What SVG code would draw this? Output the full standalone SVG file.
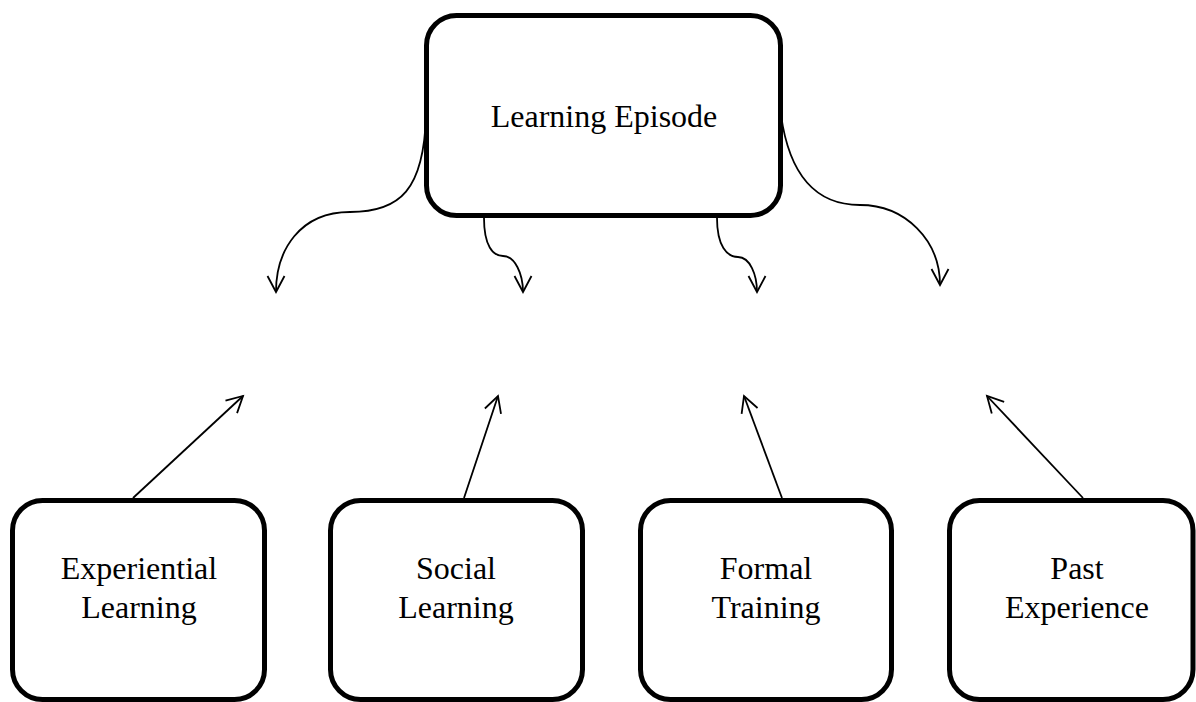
<svg xmlns="http://www.w3.org/2000/svg" width="1196" height="702" viewBox="0 0 1196 702">
  <style>
    .box { fill: #ffffff; stroke: #000000; stroke-width: 5; }
    .lbl { font-family: "Liberation Serif", "Times New Roman", serif; font-size: 32px; fill: #000000; text-anchor: middle; }
    .conn { fill: none; stroke: #000000; stroke-width: 1.8; marker-end: url(#arrow); }
  </style>
  <defs>
    <marker id="arrow" markerUnits="userSpaceOnUse" markerWidth="40" markerHeight="40" viewBox="-20 -20 40 40" refX="0" refY="0" orient="auto">
      <path d="M -16 -8.5 L 0 0 L -16 8.5" fill="none" stroke="#000000" stroke-width="1.8" stroke-linejoin="miter"/>
    </marker>
  </defs>
  <rect width="1196" height="702" fill="#ffffff"/>

  <g id="connectors">
    <path class="conn" d="M 426 115 C 424 190, 400 212, 350 212 C 300 212, 276 250, 276 292"/>
    <path class="conn" d="M 484 218 C 484 246, 493 256, 503 256 C 515 256, 523 274, 523 292"/>
    <path class="conn" d="M 717 218 C 717 246, 727 257, 738 257 C 750 257, 757 275, 757 292"/>
    <path class="conn" d="M 781 115 C 790 180, 820 205, 860 205 C 905 205, 940 240, 940 285"/>
    <path class="conn" d="M 133 498 L 243 396"/>
    <path class="conn" d="M 464 498 L 498 396"/>
    <path class="conn" d="M 782 498 L 744 396"/>
    <path class="conn" d="M 1083 498 L 987 396"/>
  </g>

  <g id="learning-episode">
    <rect class="box" x="426.5" y="15.5" width="354" height="200" rx="30" ry="30"/>
    <text class="lbl" x="604" y="127">Learning Episode</text>
  </g>

  <g id="experiential-learning">
    <rect class="box" x="12.5" y="500.5" width="252" height="199" rx="30" ry="30"/>
    <text class="lbl" x="139" y="579">Experiential</text>
    <text class="lbl" x="139" y="618">Learning</text>
  </g>

  <g id="social-learning">
    <rect class="box" x="330.5" y="500.5" width="252" height="199" rx="30" ry="30"/>
    <text class="lbl" x="456" y="579">Social</text>
    <text class="lbl" x="456" y="618">Learning</text>
  </g>

  <g id="formal-training">
    <rect class="box" x="640.5" y="500.5" width="251" height="199" rx="30" ry="30"/>
    <text class="lbl" x="766" y="579">Formal</text>
    <text class="lbl" x="766" y="618">Training</text>
  </g>

  <g id="past-experience">
    <rect class="box" x="949.5" y="500.5" width="243.5" height="199" rx="30" ry="30"/>
    <text class="lbl" x="1077" y="579">Past</text>
    <text class="lbl" x="1077" y="618">Experience</text>
  </g>
</svg>
